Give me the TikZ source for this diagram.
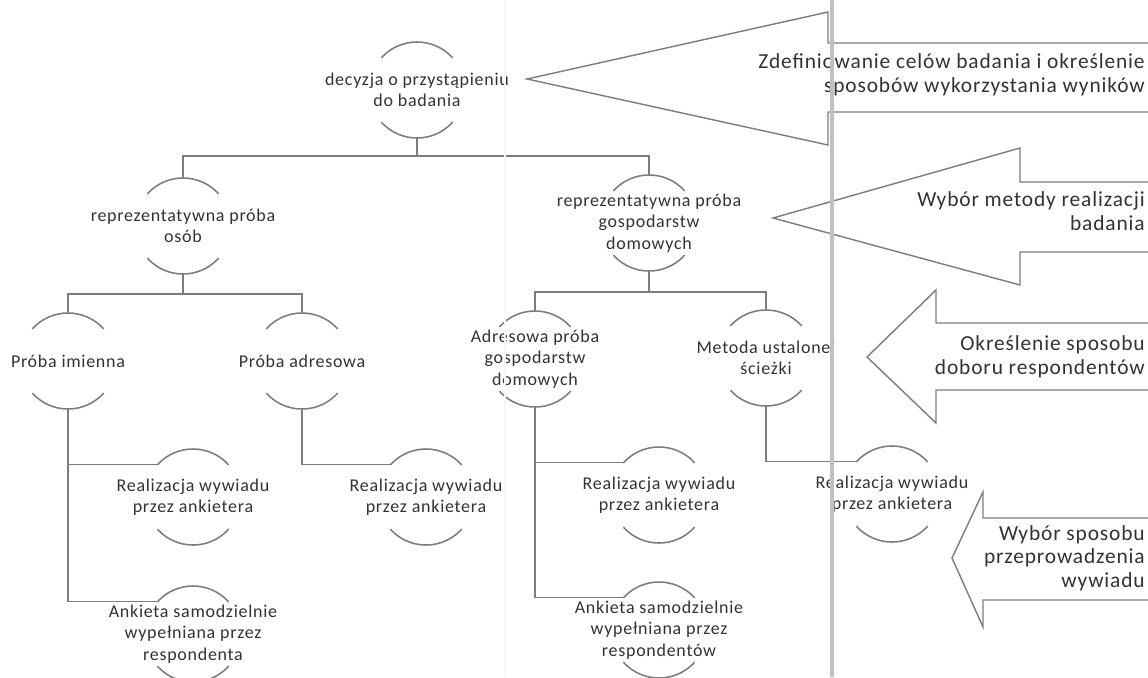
\documentclass[tikz,border=0pt]{standalone}
\usepackage{fontspec}
\setmainfont{Carlito}[LetterSpace=4]
\definecolor{linegray}{RGB}{125,125,125}
\definecolor{textgray}{RGB}{50,50,50}
\definecolor{guttergray}{RGB}{192,192,192}

\begin{document}
\begin{tikzpicture}[x=0.70pt,y=0.70pt,yscale=-1,xscale=1,
  ring/.style={circle,minimum size=67.2pt,inner sep=0pt,draw=linegray,line width=1.1pt,
    dash pattern=on 56.3pt off 49.26pt,dash phase=80.93pt},
  nodetext/.style={align=center,inner sep=0pt,text=textgray,font=\fontsize{12.6pt}{15pt}\selectfont},
  arrowtext/.style={align=right,inner sep=0pt,anchor=east,text=textgray,font=\fontsize{15pt}{16.6pt}\selectfont},
  conn/.style={draw=linegray,line width=1.2pt},
  blockarrow/.style={draw=linegray,line width=1pt,line join=miter},
  gutter/.style={draw=guttergray,line width=2.4pt}]
%uncomment if require: \path (0,677); %set diagram left start at 0, and has height of 677
\useasboundingbox (0,0) rectangle (1148,677);

%Shape: Rings [decyzja]
\node[ring] (decyzja) at (417,90) {};
\node[nodetext] (decyzja-t) at (decyzja) {decyzja o przystąpieniu\\do badania};
%Shape: Rings [osoby]
\node[ring] (osob) at (183,226) {};
\node[nodetext] (osob-t) at (osob) {reprezentatywna próba\\osób};
%Shape: Rings [gospodarstwa]
\node[ring] (gosp) at (649,223) {};
\node[nodetext] (gosp-t) at (gosp) {reprezentatywna próba\\gospodarstw\\domowych};
%Shape: Rings [proby]
\node[ring] (imienna) at (68,361) {};
\node[nodetext] (imienna-t) at (imienna) {Próba imienna};
\node[ring] (adresowa) at (302,361) {};
\node[nodetext] (adresowa-t) at (adresowa) {Próba adresowa};
\node[ring] (adrgosp) at (535,359) {};
\node[nodetext] (adrgosp-t) at (adrgosp) {Adresowa próba\\gospodarstw\\domowych};
\node[ring] (sciezka) at (766,358) {};
\node[nodetext] (sciezka-t) at (sciezka) {Metoda ustalonej\\ścieżki};
%Shape: Rings [wywiad]
\node[ring] (ankieter1) at (193,497) {};
\node[nodetext] (ankieter1-t) at (ankieter1) {Realizacja wywiadu\\przez ankietera};
\node[ring] (samo1) at (193,634) {};
\node[nodetext] (samo1-t) at (samo1) {Ankieta samodzielnie\\wypełniana przez\\respondenta};
\node[ring] (ankieter2) at (426,497) {};
\node[nodetext] (ankieter2-t) at (ankieter2) {Realizacja wywiadu\\przez ankietera};
\node[ring] (ankieter3) at (659,495) {};
\node[nodetext] (ankieter3-t) at (ankieter3) {Realizacja wywiadu\\przez ankietera};
\node[ring] (samo2) at (659,630) {};
\node[nodetext] (samo2-t) at (samo2) {Ankieta samodzielnie\\wypełniana przez\\respondentów};
\node[ring] (ankieter4) at (892,494) {};
\node[nodetext] (ankieter4-t) at (ankieter4) {Realizacja wywiadu\\przez ankietera};

%Straight Lines [tree]
\draw[conn] (decyzja.south) -- ++(0,17) -| (osob.north);
\draw[conn] (decyzja.south) -- ++(0,17) -| (gosp.north);
\draw[conn] (osob.south) -- ++(0,19) -| (imienna.north);
\draw[conn] (osob.south) -- ++(0,19) -| (adresowa.north);
\draw[conn] (gosp.south) -- ++(0,20) -| (adrgosp.north);
\draw[conn] (gosp.south) -- ++(0,20) -| (sciezka.north);
\draw[conn] (imienna.south) |- (ankieter1.138);
\draw[conn] (imienna.south) |- (samo1.138);
\draw[conn] (adresowa.south) |- (ankieter2.138);
\draw[conn] (adrgosp.south) |- (ankieter3.138);
\draw[conn] (adrgosp.south) |- (samo2.138);
\draw[conn] (sciezka.south) |- (ankieter4.138);

%Shape: Polygon [arrow 1]
\draw[blockarrow] (1150,43) -- (828,43) -- (828,12) -- (527,79) -- (828,145) -- (828,112) -- (1150,112);
\node[arrowtext] (cele) at (1145,75) {Zdefiniowanie celów badania i określenie\\sposobów wykorzystania wyników};
%Shape: Polygon [arrow 2]
\draw[blockarrow] (1150,182) -- (1020,182) -- (1020,148) -- (773,218) -- (1020,285) -- (1020,252) -- (1150,252);
\node[arrowtext] (metodab) at (1145,211) {Wybór metody realizacji\\badania};
%Shape: Polygon [arrow 3]
\draw[blockarrow] (1150,323) -- (936,323) -- (936,290) -- (867,357) -- (936,423) -- (936,390) -- (1150,390);
\node[arrowtext] (dobor) at (1145,357) {Określenie sposobu\\doboru respondentów};
%Shape: Polygon [arrow 4]
\draw[blockarrow] (1150,518) -- (983,518) -- (983,492) -- (952,558) -- (983,627) -- (983,600) -- (1150,600);
\node[arrowtext] (wywiad) at (1145,558) {Wybór sposobu\\przeprowadzenia\\wywiadu};

%Straight Lines [page gutter]
\draw[gutter,draw=guttergray!12,line width=0.8pt] (505,0) -- (505,677);
\draw[gutter] (832,0) -- (832,677);

\end{tikzpicture}
\end{document}
